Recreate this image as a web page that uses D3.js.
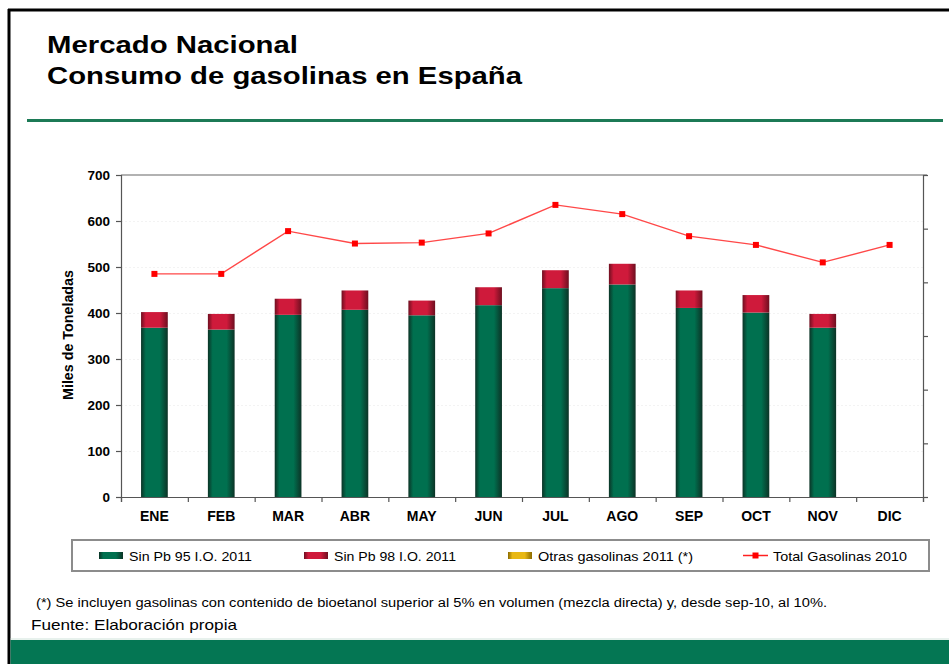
<!DOCTYPE html>
<html>
<head>
<meta charset="utf-8">
<script src="https://cdn.jsdelivr.net/npm/d3@7"></script>
<style>
  body { margin: 0; background: #fff; }
  svg { display: block; font-family: Arial, "Liberation Sans", sans-serif; }
</style>
</head>
<body>
<svg id="chart"></svg>
<script>
// datos
var meses = ["ENE","FEB","MAR","ABR","MAY","JUN","JUL","AGO","SEP","OCT","NOV","DIC"];
var sinPb95 = [368, 364, 396, 407, 395, 417, 454, 462, 411, 401, 368, null];
var sinPb98 = [34, 34, 35, 42, 32, 39, 39, 45, 38, 38, 30, null];
var otras2011 = [0, 0, 0, 0, 0, 0, 0, 0, 0, 0, 0, null];
var total2010 = [485, 485, 578, 551, 553, 573, 635, 615, 567, 548, 510, 548];
var yTicks = [0, 100, 200, 300, 400, 500, 600, 700];
var rightTicks = [0, 1, 2, 3, 4, 5, 6];
var leyenda = ["Sin Pb 95 I.O. 2011", "Sin Pb 98 I.O. 2011", "Otras gasolinas 2011 (*)", "Total Gasolinas 2010"];

var W = 949, H = 664;
var plotL = 121, plotR = 923, plotT = 175, plotB = 497;
var verde = "#00704f", rojo = "#cf1a3b";

var svg = d3.select("#chart").attr("width", W).attr("height", H);
var defs = svg.append("defs");

// degradados tipo cilindro
function grad(id, edge, mid) {
  var g = defs.append("linearGradient").attr("id", id)
    .attr("x1", "0%").attr("x2", "100%").attr("y1", "0%").attr("y2", "0%");
  g.append("stop").attr("offset", "0%").attr("stop-color", edge);
  g.append("stop").attr("offset", "18%").attr("stop-color", mid);
  g.append("stop").attr("offset", "70%").attr("stop-color", mid);
  g.append("stop").attr("offset", "100%").attr("stop-color", edge);
}
grad("gVerde", "#0c3326", verde);
grad("gRojo", "#6e0f20", rojo);
grad("gAmar", "#8a6a00", "#e8b814");

// marco
svg.append("rect").attr("x", 0).attr("y", 0).attr("width", W).attr("height", H).attr("fill", "#fff");
svg.append("line").attr("x1", 8).attr("x2", W).attr("y1", 10).attr("y2", 10)
  .attr("stroke", "#000").attr("stroke-width", 3);
svg.append("line").attr("x1", 9).attr("x2", 9).attr("y1", 9).attr("y2", H)
  .attr("stroke", "#000").attr("stroke-width", 3);
svg.append("rect").attr("x", 10.5).attr("y", 640).attr("width", W - 10).attr("height", 24).attr("fill", "#047653");
svg.append("line").attr("x1", 10.5).attr("x2", W).attr("y1", 639).attr("y2", 639)
  .attr("stroke", "#cfe3da").attr("stroke-width", 1);
svg.append("line").attr("x1", 27).attr("x2", 943).attr("y1", 120.5).attr("y2", 120.5)
  .attr("stroke", "#1c7a56").attr("stroke-width", 3);

// titulo
function texto(x, y, s, size, weight, len) {
  return svg.append("text").attr("x", x).attr("y", y).text(s)
    .attr("font-size", size).attr("font-weight", weight).attr("fill", "#000")
    .attr("textLength", len).attr("lengthAdjust", "spacingAndGlyphs");
}
texto(47, 53, "Mercado Nacional", 24, "bold", 251);
texto(47, 84, "Consumo de gasolinas en España", 24, "bold", 475);

// escalas
var x = d3.scaleBand().domain(meses).range([plotL, plotR]).paddingInner(0.6).paddingOuter(0.3);
var xi = d3.scaleLinear().domain([0, meses.length]).range([plotL, plotR]);
var y = d3.scaleLinear().domain([0, 700]).range([plotB, plotT]);
var y2 = d3.scaleLinear().domain([0, 6]).range([plotB, plotT]);

// rejilla
svg.append("g").selectAll("line").data(yTicks.slice(1, -1)).enter().append("line")
  .attr("x1", plotL).attr("x2", plotR)
  .attr("y1", function(d) { return y(d) + 0.5; })
  .attr("y2", function(d) { return y(d) + 0.5; })
  .attr("stroke", "#f3f3f3").attr("stroke-dasharray", "2,2");

svg.append("line").attr("x1", plotL).attr("x2", plotR + 4).attr("y1", plotT).attr("y2", plotT)
  .attr("stroke", "#666").attr("stroke-width", 1.2);

// barras apiladas
var series = [
  { vals: sinPb95, fill: "url(#gVerde)" },
  { vals: sinPb98, fill: "url(#gRojo)" },
  { vals: otras2011, fill: "url(#gAmar)" }
];
var base = meses.map(function() { return 0; });
series.forEach(function(s) {
  svg.append("g").selectAll("rect")
    .data(meses.map(function(m, i) { return { m: m, v: s.vals[i], b: base[i] }; })
      .filter(function(d) { return d.v; }))
    .enter().append("rect")
    .attr("x", function(d) { return x(d.m); })
    .attr("width", x.bandwidth())
    .attr("y", function(d) { return y(d.b + d.v); })
    .attr("height", function(d) { return y(d.b) - y(d.b + d.v); })
    .attr("fill", s.fill);
  s.vals.forEach(function(v, i) { if (v) base[i] += v; });
});

// ejes
var gy = svg.append("g").attr("transform", "translate(" + plotL + ",0)")
  .call(d3.axisLeft(y).tickValues(yTicks).tickSize(5).tickPadding(6));
gy.selectAll("text").attr("font-size", 13.5).attr("font-weight", "bold").attr("fill", "#000")
  .attr("font-family", "Arial, 'Liberation Sans', sans-serif");

var gy2 = svg.append("g").attr("transform", "translate(" + plotR + ",0)")
  .call(d3.axisRight(y2).tickValues(rightTicks).tickSize(5).tickFormat(""));

var gxt = svg.append("g").attr("transform", "translate(0," + plotB + ")")
  .call(d3.axisBottom(xi).tickValues(d3.range(meses.length + 1)).tickSize(5).tickFormat(""));

var gx = svg.append("g").attr("transform", "translate(0," + plotB + ")")
  .call(d3.axisBottom(x).tickSize(0).tickPadding(14));
gx.select(".domain").remove();
gx.selectAll("text").attr("font-size", 14).attr("font-weight", "bold").attr("fill", "#000")
  .attr("font-family", "Arial, 'Liberation Sans', sans-serif");

[gy, gy2, gxt].forEach(function(g) {
  g.selectAll(".domain, line").attr("stroke", "#555").attr("stroke-width", 1.2);
});

svg.append("text").attr("transform", "translate(73,335) rotate(-90)")
  .attr("text-anchor", "middle").attr("font-size", 14).attr("font-weight", "bold")
  .attr("textLength", 130).attr("lengthAdjust", "spacingAndGlyphs")
  .text("Miles de Toneladas");

// linea total 2010
var cx = function(d, i) { return x(meses[i]) + x.bandwidth() / 2; };
svg.append("path").datum(total2010)
  .attr("fill", "none").attr("stroke", "#ff4848").attr("stroke-width", 1.4)
  .attr("d", d3.line().x(cx).y(function(d) { return y(d); }));
svg.append("g").selectAll("rect").data(total2010).enter().append("rect")
  .attr("x", function(d, i) { return cx(d, i) - 3; })
  .attr("y", function(d) { return y(d) - 3; })
  .attr("width", 6).attr("height", 6).attr("fill", "#ff0000");

// leyenda
svg.append("rect").attr("x", 72).attr("y", 540).attr("width", 857).attr("height", 31)
  .attr("fill", "#fff").attr("stroke", "#8c8c8c").attr("stroke-width", 2);
var legX = [99, 304, 508, 743];
var legW = [123, 122, 155, 134];
var legFill = ["url(#gVerde)", "url(#gRojo)", "url(#gAmar)", null];
leyenda.forEach(function(t, i) {
  if (legFill[i]) {
    svg.append("rect").attr("x", legX[i]).attr("y", 552).attr("width", 24).attr("height", 7)
      .attr("fill", legFill[i]);
  } else {
    svg.append("line").attr("x1", legX[i]).attr("x2", legX[i] + 25).attr("y1", 555.5).attr("y2", 555.5)
      .attr("stroke", "#ff2020").attr("stroke-width", 1.5);
    svg.append("rect").attr("x", legX[i] + 9.5).attr("y", 552.5).attr("width", 6).attr("height", 6)
      .attr("fill", "#ff0000");
  }
  texto(legX[i] + 30, 561, t, 13, "normal", legW[i]);
});

// notas
texto(36, 607, "(*) Se incluyen gasolinas con contenido de bioetanol superior al 5% en volumen (mezcla directa) y, desde sep-10, al 10%.", 12.5, "normal", 791);
texto(31, 630, "Fuente: Elaboración propia", 15, "normal", 206);
</script>
</body>
</html>
